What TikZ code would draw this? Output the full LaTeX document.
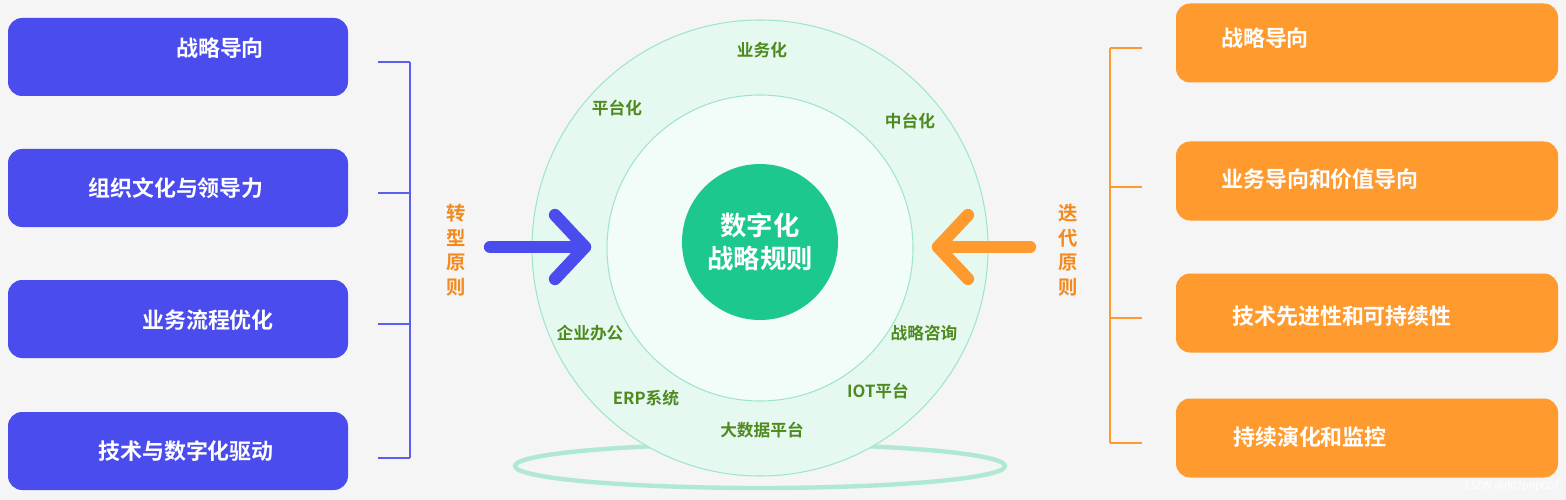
\documentclass[tikz,border=0pt]{standalone}
\usepackage{fontspec}
\setmainfont{Noto Sans CJK SC}[BoldFont={Noto Sans CJK SC Bold}]
\usetikzlibrary{shadows}
\definecolor{bluebox}{HTML}{4A4CEE}
\definecolor{orangebox}{HTML}{FF9A2E}
\definecolor{lab}{HTML}{4E8A1E}
\definecolor{cgreen}{HTML}{1DC88E}
\definecolor{ringfill}{HTML}{E6F9F1}
\definecolor{ringin}{HTML}{F2FCF8}
\definecolor{ringline}{HTML}{9FE6C9}
\definecolor{ptxt}{HTML}{F28A1E}
\tikzset{x=0.02cm,y=-0.02cm,
 bbox/.style={draw=none,fill=bluebox,rounded corners=8pt,minimum width=340*0.02cm,minimum height=78*0.02cm,inner sep=0pt},
 obox/.style={draw=none,fill=orangebox,rounded corners=8pt,minimum width=382*0.02cm,minimum height=79*0.02cm,inner sep=0pt},
 btxt/.style={text=white,font=\fontsize{12.5}{14}\selectfont\bfseries},
 clab/.style={text=lab,font=\fontsize{9.5}{11}\selectfont\bfseries},
 vt/.style={text=ptxt,font=\fontsize{11}{12}\selectfont\bfseries,align=center},
}
\begin{document}
\begin{tikzpicture}
\fill[black!4] (0,0) rectangle (1566,500);
\useasboundingbox (0,0) rectangle (1566,500);
% left boxes
\foreach \n/\y in {l1/57,l2/188,l3/319,l4/451}{\node[bbox] (\n) at (178,\y) {};}
\node[btxt] at (220,48) {战略导向};
\node[btxt] at (176,188) {组织文化与领导力};
\node[btxt] at (208,320) {业务流程优化};
\node[btxt] at (186,451) {技术与数字化驱动};
% right boxes
\foreach \n/\y in {r1/43,r2/181,r3/313,r4/438}{\node[obox] (\n) at (1367,\y) {};}
\node[btxt] at (1265,38) {战略导向};
\node[btxt] at (1320,179) {业务导向和价值导向};
\node[btxt] at (1342,316) {技术先进性和可持续性};
\node[btxt] at (1310,437) {持续演化和监控};
% brackets
\draw[bluebox!90,line width=1.2pt] (378,62)--(410,62) (410,62)--(410,458) (378,193)--(410,193) (378,324)--(410,324) (378,458)--(410,458);
\draw[orangebox,line width=1.2pt] (1142,48)--(1110,48) (1110,48)--(1110,443) (1142,187)--(1110,187) (1142,318)--(1110,318) (1142,443)--(1110,443);
\node[vt] at (456,250) {转\\[2pt]型\\[2pt]原\\[2pt]则};
\node[vt] at (1068,250) {迭\\[2pt]代\\[2pt]原\\[2pt]则};
% bottom ellipse
\draw[ringline,line width=2.5pt,opacity=0.8] (760,466) ellipse [x radius=245, y radius=22];
% circles
\node[circle,fill=ringfill,draw=ringline,line width=0.6pt,minimum size=456*0.02cm] (outer) at (760,248) {};
\node[circle,fill=ringin,draw=ringline,line width=0.6pt,minimum size=306*0.02cm] (inner) at (760,248) {};
\node[circle,fill=cgreen,minimum size=156*0.02cm,text=white,align=center,font=\fontsize{15}{19}\selectfont\bfseries] (core) at (760,242) {数字化\\战略规则};
% labels
\node[clab] at (762,50) {业务化};
\node[clab] at (617,108) {平台化};
\node[clab] at (910,121) {中台化};
\node[clab] at (590,333) {企业办公};
\node[clab] at (924,333) {战略咨询};
\node[clab] at (646,398) {ERP系统};
\node[clab] at (878,391) {IOT平台};
\node[clab] at (762,430) {大数据平台};
% arrows
\coordinate (ba) at (490,247); \coordinate (bb) at (585,247);
\draw[bluebox,line width=7pt,line cap=round] (ba)--(bb);
\draw[bluebox,line width=7pt,line cap=round,line join=round] (555,215)--(bb)--(555,279);
\coordinate (oa) at (1030,247); \coordinate (ob) at (938,247);
\draw[orangebox,line width=7pt,line cap=round] (oa)--(ob);
\draw[orangebox,line width=7pt,line cap=round,line join=round] (968,215)--(ob)--(968,279);
\node[text=white,font=\fontsize{6}{7}\selectfont] at (1512,487) {CSDN @007php007};
\end{tikzpicture}
\end{document}
